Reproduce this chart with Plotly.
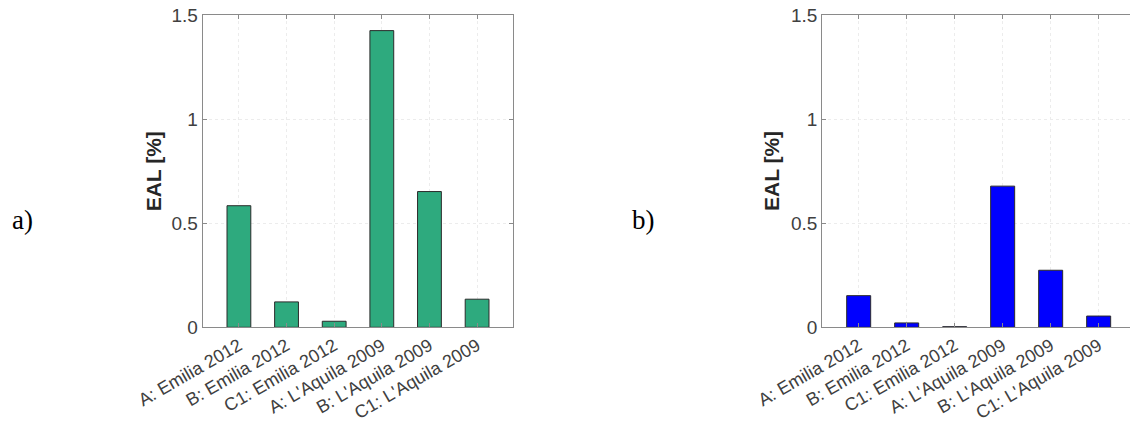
import plotly.graph_objects as go

categories = ["A: Emilia 2012", "B: Emilia 2012", "C1: Emilia 2012",
              "A: L'Aquila 2009", "B: L'Aquila 2009", "C1: L'Aquila 2009"]
eal_a = [0.584, 0.122, 0.029, 1.425, 0.652, 0.135]
eal_b = [0.152, 0.021, 0.003, 0.678, 0.274, 0.054]
y_ticks = [0, 0.5, 1, 1.5]
y_ticktext = ["0", "0.5", "1", "1.5"]

W, H = 1130, 430
green = "#2EAA7E"
blue = "#0000FF"
axis_col = "#8a8a8a"
text_col = "#404040"
font_family = "Liberation Sans, Arial, sans-serif"

fig = go.Figure()
fig.add_trace(go.Bar(x=list(range(len(categories))), y=eal_a, width=0.5,
                     marker=dict(color=green, line=dict(color="#2b2b2b", width=1)),
                     xaxis="x", yaxis="y", showlegend=False))
fig.add_trace(go.Bar(x=list(range(len(categories))), y=eal_b, width=0.5,
                     marker=dict(color=blue, line=dict(color="#2b2b2b", width=1)),
                     xaxis="x2", yaxis="y2", showlegend=False))

def px_x(p):
    return p / W

def px_y(p):
    return 1 - p / H

common_x = dict(
    tickmode="array", tickvals=list(range(len(categories))), ticktext=categories,
    tickangle=-30, tickfont=dict(family=font_family, size=18, color=text_col),
    showline=True, linecolor=axis_col, linewidth=1, mirror="ticks",
    ticks="inside", ticklen=4, tickcolor=axis_col,
    showgrid=True, gridcolor="#ececec", griddash="dot", gridwidth=1,
    zeroline=False, fixedrange=True, automargin=False,
    ticklabeloverflow="allow",
)
common_y = dict(
    range=[0, 1.5], tickmode="array", tickvals=y_ticks, ticktext=y_ticktext,
    tickfont=dict(family=font_family, size=19, color=text_col),
    showline=True, linecolor=axis_col, linewidth=1,
    ticks="inside", ticklen=4, tickcolor=axis_col,
    showgrid=True, gridcolor="#ececec", griddash="dot", gridwidth=1,
    zeroline=False, fixedrange=True, automargin=False,
    ticklabeloverflow="allow",
)

ydom = [px_y(327.3), px_y(15)]
fig.update_layout(
    width=W, height=H, autosize=False,
    margin=dict(l=0, r=0, t=0, b=0, pad=0),
    paper_bgcolor="white", plot_bgcolor="white",
    bargap=0, hovermode=False,
    xaxis=dict(common_x, domain=[px_x(202.7), px_x(513.3)], range=[-0.76, 5.76], anchor="y"),
    yaxis=dict(common_y, domain=ydom, anchor="x", mirror="ticks"),
    xaxis2=dict(common_x, domain=[px_x(822.2), 1.0], range=[-0.76, 5.653], anchor="y2"),
    yaxis2=dict(common_y, domain=ydom, anchor="x2", mirror=False),
)

annots = [
    dict(text="<b>EAL [%]</b>", x=px_x(153.3), y=px_y(171), textangle=-90),
    dict(text="<b>EAL [%]</b>", x=px_x(771), y=px_y(171), textangle=-90),
]
for a in annots:
    fig.add_annotation(xref="paper", yref="paper", showarrow=False,
                       xanchor="center", yanchor="middle",
                       font=dict(family=font_family, size=21, color="#262626"), **a)

for lab, xc in [("a)", 22.5), ("b)", 643)]:
    fig.add_annotation(text=lab, xref="paper", yref="paper", x=px_x(xc), y=px_y(220),
                       showarrow=False, xanchor="center", yanchor="middle",
                       font=dict(family="Liberation Serif, Times New Roman, serif", size=27, color="black"))

# remove the browser's default body margin so the figure starts at the window corner
fig.write_html("out.html", config={"displayModeBar": False, "staticPlot": True},
               post_script="document.body.style.margin='0';")
